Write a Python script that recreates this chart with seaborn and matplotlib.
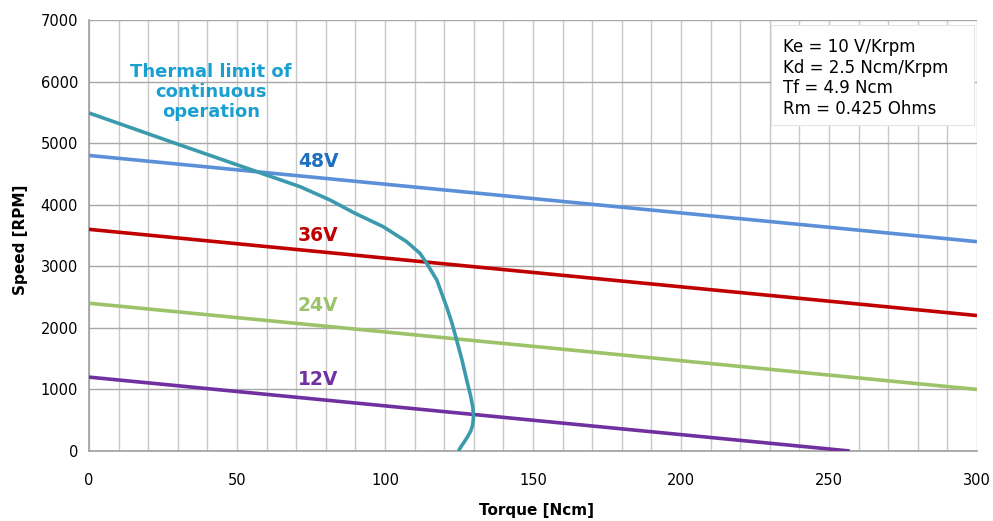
import numpy as np
import pandas as pd
import matplotlib
matplotlib.use("Agg")
import matplotlib.pyplot as plt
from matplotlib.patches import Rectangle
import seaborn as sns

# ---- data ----
voltages = ["48V", "36V", "24V", "12V"]
torque_start = [0, 0, 0, 0]
torque_end = [300, 300, 300, 257]
speed_start = [4800, 3600, 2400, 1200]
speed_end = [3400, 2200, 1000, 0]

thermal_torque = [0, 29.1, 58.3, 71.3, 81.4, 89.9, 99.4, 107.3, 111.8, 114.1, 117.5, 120.8,
                  122.6, 124.2, 126.0, 127.6, 128.9, 129.7, 129.9, 129.6, 129.0, 128.0, 126.8, 125.8, 124.8]
thermal_speed = [5490, 4998, 4510, 4293, 4077, 3860, 3643, 3400, 3211, 3048, 2777, 2344,
                 2080, 1803, 1480, 1153, 900, 700, 550, 420, 330, 240, 150, 80, 0]

note_lines = ["Ke = 10 V/Krpm", "Kd = 2.5 Ncm/Krpm", "Tf = 4.9 Ncm", "Rm = 0.425 Ohms"]

line_colors = ["#5B90D8", "#C00000", "#9DC36A", "#7030A0"]
label_colors = ["#1F6FC0", "#C00000", "#9DC36A", "#7030A0"]
thermal_color = "#3B9BAD"

rows = []
for v, t0, t1, s0, s1 in zip(voltages, torque_start, torque_end, speed_start, speed_end):
    rows.append({"V": v, "Torque": t0, "Speed": s0})
    rows.append({"V": v, "Torque": t1, "Speed": s1})
df = pd.DataFrame(rows)
thermal = pd.DataFrame({"Torque": thermal_torque, "Speed": thermal_speed})

sns.set_theme(style="white")
plt.rcParams['font.family'] = ['DejaVu Sans']
plt.rcParams['text.color'] = 'black'
plt.rcParams['axes.labelcolor'] = 'black'

fig = plt.figure(figsize=(9.93, 5.21), dpi=100)
ax = fig.add_axes([89/993, 1-451/521, (977-89)/993, (451-20)/521])

sns.lineplot(data=df, x="Torque", y="Speed", hue="V", palette=dict(zip(voltages, line_colors)),
             linewidth=2.6, legend=False, ax=ax, zorder=3)
sns.lineplot(data=thermal, x="Torque", y="Speed", sort=False, color=thermal_color,
             linewidth=2.6, ax=ax, zorder=4)
for ln in ax.get_lines():
    ln.set_solid_joinstyle("round")
    ln.set_solid_capstyle("butt")

ax.set_xlim(0, 300)
ax.set_ylim(0, 7000)
ax.set_xticks(np.arange(0, 301, 50))
ax.set_xticks(np.arange(0, 301, 10), minor=True)
ax.set_yticks(np.arange(0, 7001, 1000))
ax.grid(which="minor", axis="x", color="#c8c8c8", linewidth=1.0)
ax.grid(which="major", axis="x", color="#c8c8c8", linewidth=1.0)
ax.grid(which="major", axis="y", color="#a8a8a8", linewidth=1.0)
ax.set_axisbelow(True)
for s in ["top", "right"]:
    ax.spines[s].set_visible(False)
for s in ["left", "bottom"]:
    ax.spines[s].set_color("#a0a0a0")
    ax.spines[s].set_linewidth(1.2)
ax.tick_params(axis="both", which="major", length=5, color="#a0a0a0", labelsize=10.5, labelcolor="black")
ax.tick_params(axis="y", which="major", pad=3)
ax.tick_params(axis="x", which="minor", length=0)
ax.tick_params(axis="x", which="major", pad=11)

ax.set_xlabel("Torque [Ncm]", fontsize=11, fontweight="bold")
ax.set_ylabel("Speed [RPM]", fontsize=11, fontweight="bold")
ax.xaxis.set_label_coords(0.5045, -0.1207)
ax.yaxis.set_label_coords(-0.0687, 0.49)

label_y = [4694, 3492, 2355, 1169]
for v, c, y in zip(voltages, label_colors, label_y):
    ax.text(70.6, y, v, color=c, fontsize=13.5, fontweight="bold", ha="left", va="center", zorder=5)

ax.text(41.2, 5831, "Thermal limit of\ncontinuous\noperation", color="#1AA0D0", fontsize=13,
        fontweight="bold", ha="center", va="center", linespacing=1.13, zorder=5)

ax.add_patch(Rectangle((0.768, 0.756), 0.229, 0.232, transform=ax.transAxes, facecolor="white",
                       edgecolor="#e4e4e4", linewidth=0.8, zorder=5))
ax.text((783-89)/888, (451-38)/431, "\n".join(note_lines), transform=ax.transAxes, fontsize=12,
        ha="left", va="top", linespacing=1.18, zorder=6)

fig.savefig("out.png", dpi=100)
